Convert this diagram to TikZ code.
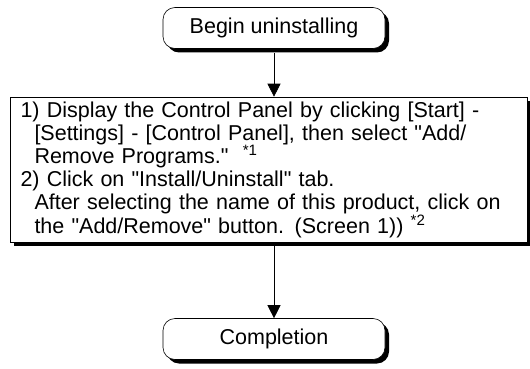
\documentclass[tikz,border=0pt]{standalone}
\usepackage{fontspec}
\setmainfont{Liberation Sans}
\usetikzlibrary{arrows.meta,shadows}

\newcommand{\qm}{\textquotedbl}

\begin{document}
\begin{tikzpicture}[x=1pt, y=1pt,
  every node/.style={draw, semithick, fill=white, font=\fontsize{21.5}{23.2}\selectfont,
    drop shadow={shadow xshift=4pt, shadow yshift=-4pt, fill=black, opacity=1}},
  terminal/.style={rounded corners=12pt, minimum width=222pt, minimum height=41pt},
  stepbox/.style={minimum width=517pt, minimum height=145pt, text width=496pt, align=left},
  flow/.style={-{Triangle[width=13pt, length=13pt]}, semithick}]
  \useasboundingbox (0,0) rectangle (530,-369);

  \node[terminal] (begin) at (274, -28) {Begin uninstalling};
  \node[stepbox] (steps) at (268.5, -169.5) {%
    1) Display the Control Panel by clicking [Start] -\\
    \hspace*{14pt}[Settings] - [Control Panel], then select \qm Add/\\
    \hspace*{14pt}Remove Programs.\qm\ \ \textsuperscript{*1}\\
    2) Click on \qm Install/Uninstall\qm\ tab.\\
    \hspace*{14pt}After selecting the name of this product, click on\\
    \hspace*{14pt}the \qm Add/Remove\qm\ button. (Screen 1)) \textsuperscript{*2}};
  \node[terminal] (done) at (274, -339) {Completion};

  \draw[flow] (begin.south) ++(0,-4) -- (begin.south |- steps.north);
  \draw[flow] (begin.south |- steps.south) ++(0,-4) -- (done.north);
\end{tikzpicture}
\end{document}
